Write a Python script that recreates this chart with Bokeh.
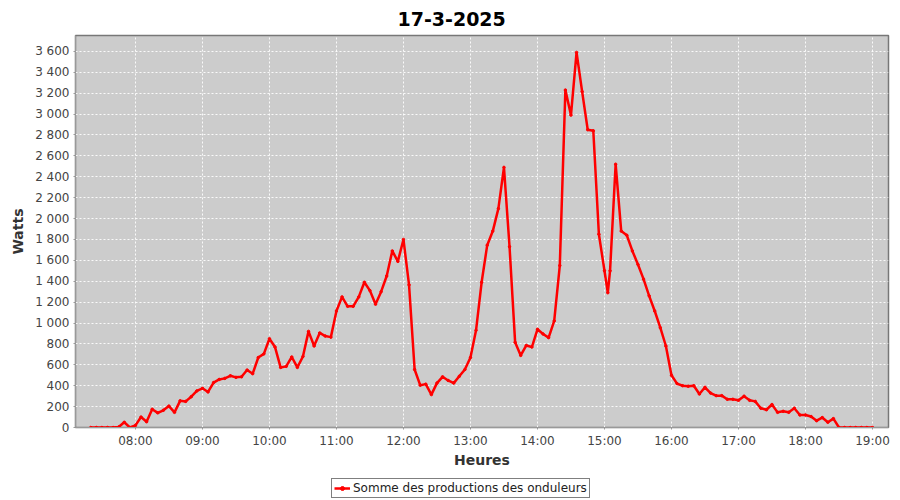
import pandas as pd
from bokeh.plotting import figure
from bokeh.layouts import column
from bokeh.models import (Range1d, FixedTicker, CustomJSTickFormatter, DatetimeTickFormatter,
                          Legend, LegendItem, ColumnDataSource)
from bokeh.embed import file_html
from bokeh.resources import INLINE

DAY = "2025-03-17"
TITLE = "17-3-2025"
SERIES_NAME = "Somme des productions des onduleurs"
X_LABEL = "Heures"
Y_LABEL = "Watts"

times = [
    "07:20", "07:25", "07:30", "07:35", "07:40", "07:45", "07:50", "07:55",
    "08:00", "08:05", "08:10", "08:15", "08:20", "08:25", "08:30", "08:35", "08:40", "08:45", "08:50", "08:55",
    "09:00", "09:05", "09:10", "09:15", "09:20", "09:25", "09:30", "09:35", "09:40", "09:45", "09:50", "09:55",
    "10:00", "10:05", "10:10", "10:15", "10:20", "10:25", "10:30", "10:35", "10:40", "10:45", "10:50", "10:55",
    "11:00", "11:05", "11:10", "11:15", "11:20", "11:25", "11:30", "11:35", "11:40", "11:45", "11:50", "11:55",
    "12:00", "12:05", "12:10", "12:15", "12:20", "12:25", "12:30", "12:35", "12:40", "12:45", "12:50", "12:55",
    "13:00", "13:05", "13:10", "13:15", "13:20", "13:25", "13:30", "13:35", "13:40", "13:45", "13:50", "13:55",
    "14:00", "14:05", "14:10", "14:15", "14:20", "14:25", "14:30", "14:35", "14:40", "14:45", "14:50", "14:55",
    "15:00", "15:03", "15:05", "15:10", "15:15", "15:20", "15:25", "15:30", "15:35", "15:40", "15:45", "15:50", "15:55",
    "16:00", "16:05", "16:10", "16:15", "16:20", "16:25", "16:30", "16:35", "16:40", "16:45", "16:50", "16:55",
    "17:00", "17:05", "17:10", "17:15", "17:20", "17:25", "17:30", "17:35", "17:40", "17:45", "17:50", "17:55",
    "18:00", "18:05", "18:10", "18:15", "18:20", "18:25", "18:30", "18:35", "18:40", "18:45", "18:50", "18:55",
    "19:00",
]

watts = [
    0, 0, 0, 0, 0, 5, 50, 0,
    20, 100, 55, 175, 140, 165, 205, 145, 255, 250, 295, 350,
    375, 340, 430, 460, 470, 495, 480, 485, 550, 515, 670, 705,
    850, 770, 575, 585, 675, 575, 680, 920, 780, 905, 875, 865,
    1115, 1250, 1160, 1160, 1250, 1390, 1310, 1180, 1300, 1450, 1690, 1590,
    1800, 1365, 555, 405, 415, 315, 425, 485, 450, 425, 490, 555,
    670, 930, 1390, 1745, 1880, 2095, 2490, 1730, 815, 690, 785, 770,
    940, 895, 860, 1020, 1550, 3230, 2990, 3590, 3215, 2850, 2840, 1850,
    1500, 1290, 1500, 2520, 1880, 1840, 1690, 1560, 1420, 1260, 1115, 955, 780,
    500, 420, 400, 395, 400, 320, 385, 330, 305, 305, 270, 270,
    260, 300, 260, 250, 185, 170, 220, 145, 155, 145, 185, 120,
    120, 105, 65, 95, 50, 85, 0, 0, 0, 0, 0, 0,
    0,
]

tick_hours = ["08:00", "09:00", "10:00", "11:00", "12:00", "13:00",
              "14:00", "15:00", "16:00", "17:00", "18:00", "19:00"]
y_ticks = list(range(0, 3601, 200))


def ms(hhmm):
    return pd.Timestamp(f"{DAY} {hhmm}").value / 1e6


xs = [pd.Timestamp(f"{DAY} {t}") for t in times]
src = ColumnDataSource(dict(x=xs, y=watts))

p = figure(width=900, height=474, output_backend="svg", toolbar_location=None,
           x_axis_type="datetime",
           x_range=Range1d(ms("07:06:20"), ms("19:14:20")),
           y_range=Range1d(0, 3752),
           min_border_left=75, min_border_right=12, min_border_top=35, min_border_bottom=47)

p.background_fill_color = "#cccccc"
p.border_fill_color = "white"
p.outline_line_color = "#777777"
p.outline_line_width = 1.5

p.title.text = TITLE
p.title.text_font = "DejaVu Sans"
p.title.text_font_size = "19px"
p.title.text_font_style = "bold"
p.title.align = "left"
p.title.offset = 322
p.title.standoff = 19
p.title.text_color = "black"

p.line("x", "y", source=src, line_color="#ff0000", line_width=2.5)
p.scatter("x", "y", source=src, size=2.5, color="#ff0000")

for ax in (p.xaxis[0], p.yaxis[0]):
    ax.axis_line_color = "#999999"
    ax.major_tick_line_color = "#999999"
    ax.major_tick_in = 0
    ax.major_tick_out = 2
    ax.minor_tick_line_color = None
    ax.major_label_text_font = "DejaVu Sans"
    ax.major_label_text_font_size = "12px"
    ax.major_label_text_color = "#444444"
    ax.axis_label_text_font = "DejaVu Sans"
    ax.axis_label_text_font_size = "14px"
    ax.axis_label_text_font_style = "bold"
    ax.axis_label_text_color = "#333333"

p.xaxis.ticker = FixedTicker(ticks=[ms(h) for h in tick_hours])
p.xaxis.formatter = DatetimeTickFormatter(hours="%H:%M", hourmin="%H:%M", minutes="%H:%M",
                                          days="%H:%M")
p.xaxis.axis_label = X_LABEL
p.xaxis.major_label_standoff = 4
p.xaxis.axis_label_standoff = 1

p.yaxis.ticker = FixedTicker(ticks=y_ticks)
p.yaxis.formatter = CustomJSTickFormatter(
    code="return tick.toFixed(0).replace(/\\B(?=(\\d{3})+(?!\\d))/g, ' ');")
p.yaxis.axis_label = Y_LABEL
p.yaxis.major_label_standoff = 4
p.yaxis.axis_label_standoff = 6

for g in (p.xgrid[0], p.ygrid[0]):
    g.grid_line_color = "white"
    g.grid_line_dash = "2 2"
    g.grid_line_alpha = 0.9
    g.grid_line_width = 1

# legend strip below the chart (its renderers use the same series, out of view)
leg = figure(width=900, height=26, output_backend="svg", toolbar_location=None,
             x_range=Range1d(0, 1), y_range=Range1d(0, 1),
             x_axis_location=None, y_axis_location=None, min_border=0)
leg.outline_line_color = None
leg.grid.visible = False
leg.background_fill_color = "white"
leg.border_fill_color = "white"
lr = leg.line("x", "y", source=src, line_color="#ff0000", line_width=2.5)
lp = leg.scatter("x", "y", source=src, size=3, color="#ff0000")

legend = Legend(items=[LegendItem(label=SERIES_NAME, renderers=[lr, lp])],
                location=(256, 2), orientation="horizontal")
legend.border_line_color = "black"
legend.border_line_width = 1
legend.label_text_font = "DejaVu Sans"
legend.label_text_font_size = "12px"
legend.label_text_color = "#222222"
legend.glyph_width = 16
legend.glyph_height = 10
legend.label_standoff = 3
legend.padding = 2
legend.margin = 0
legend.spacing = 0
legend.label_height = 14
legend.background_fill_color = "white"
leg.add_layout(legend, "center")

layout = column(p, leg, spacing=0)

open("out.html", "w").write(file_html(layout, INLINE))
